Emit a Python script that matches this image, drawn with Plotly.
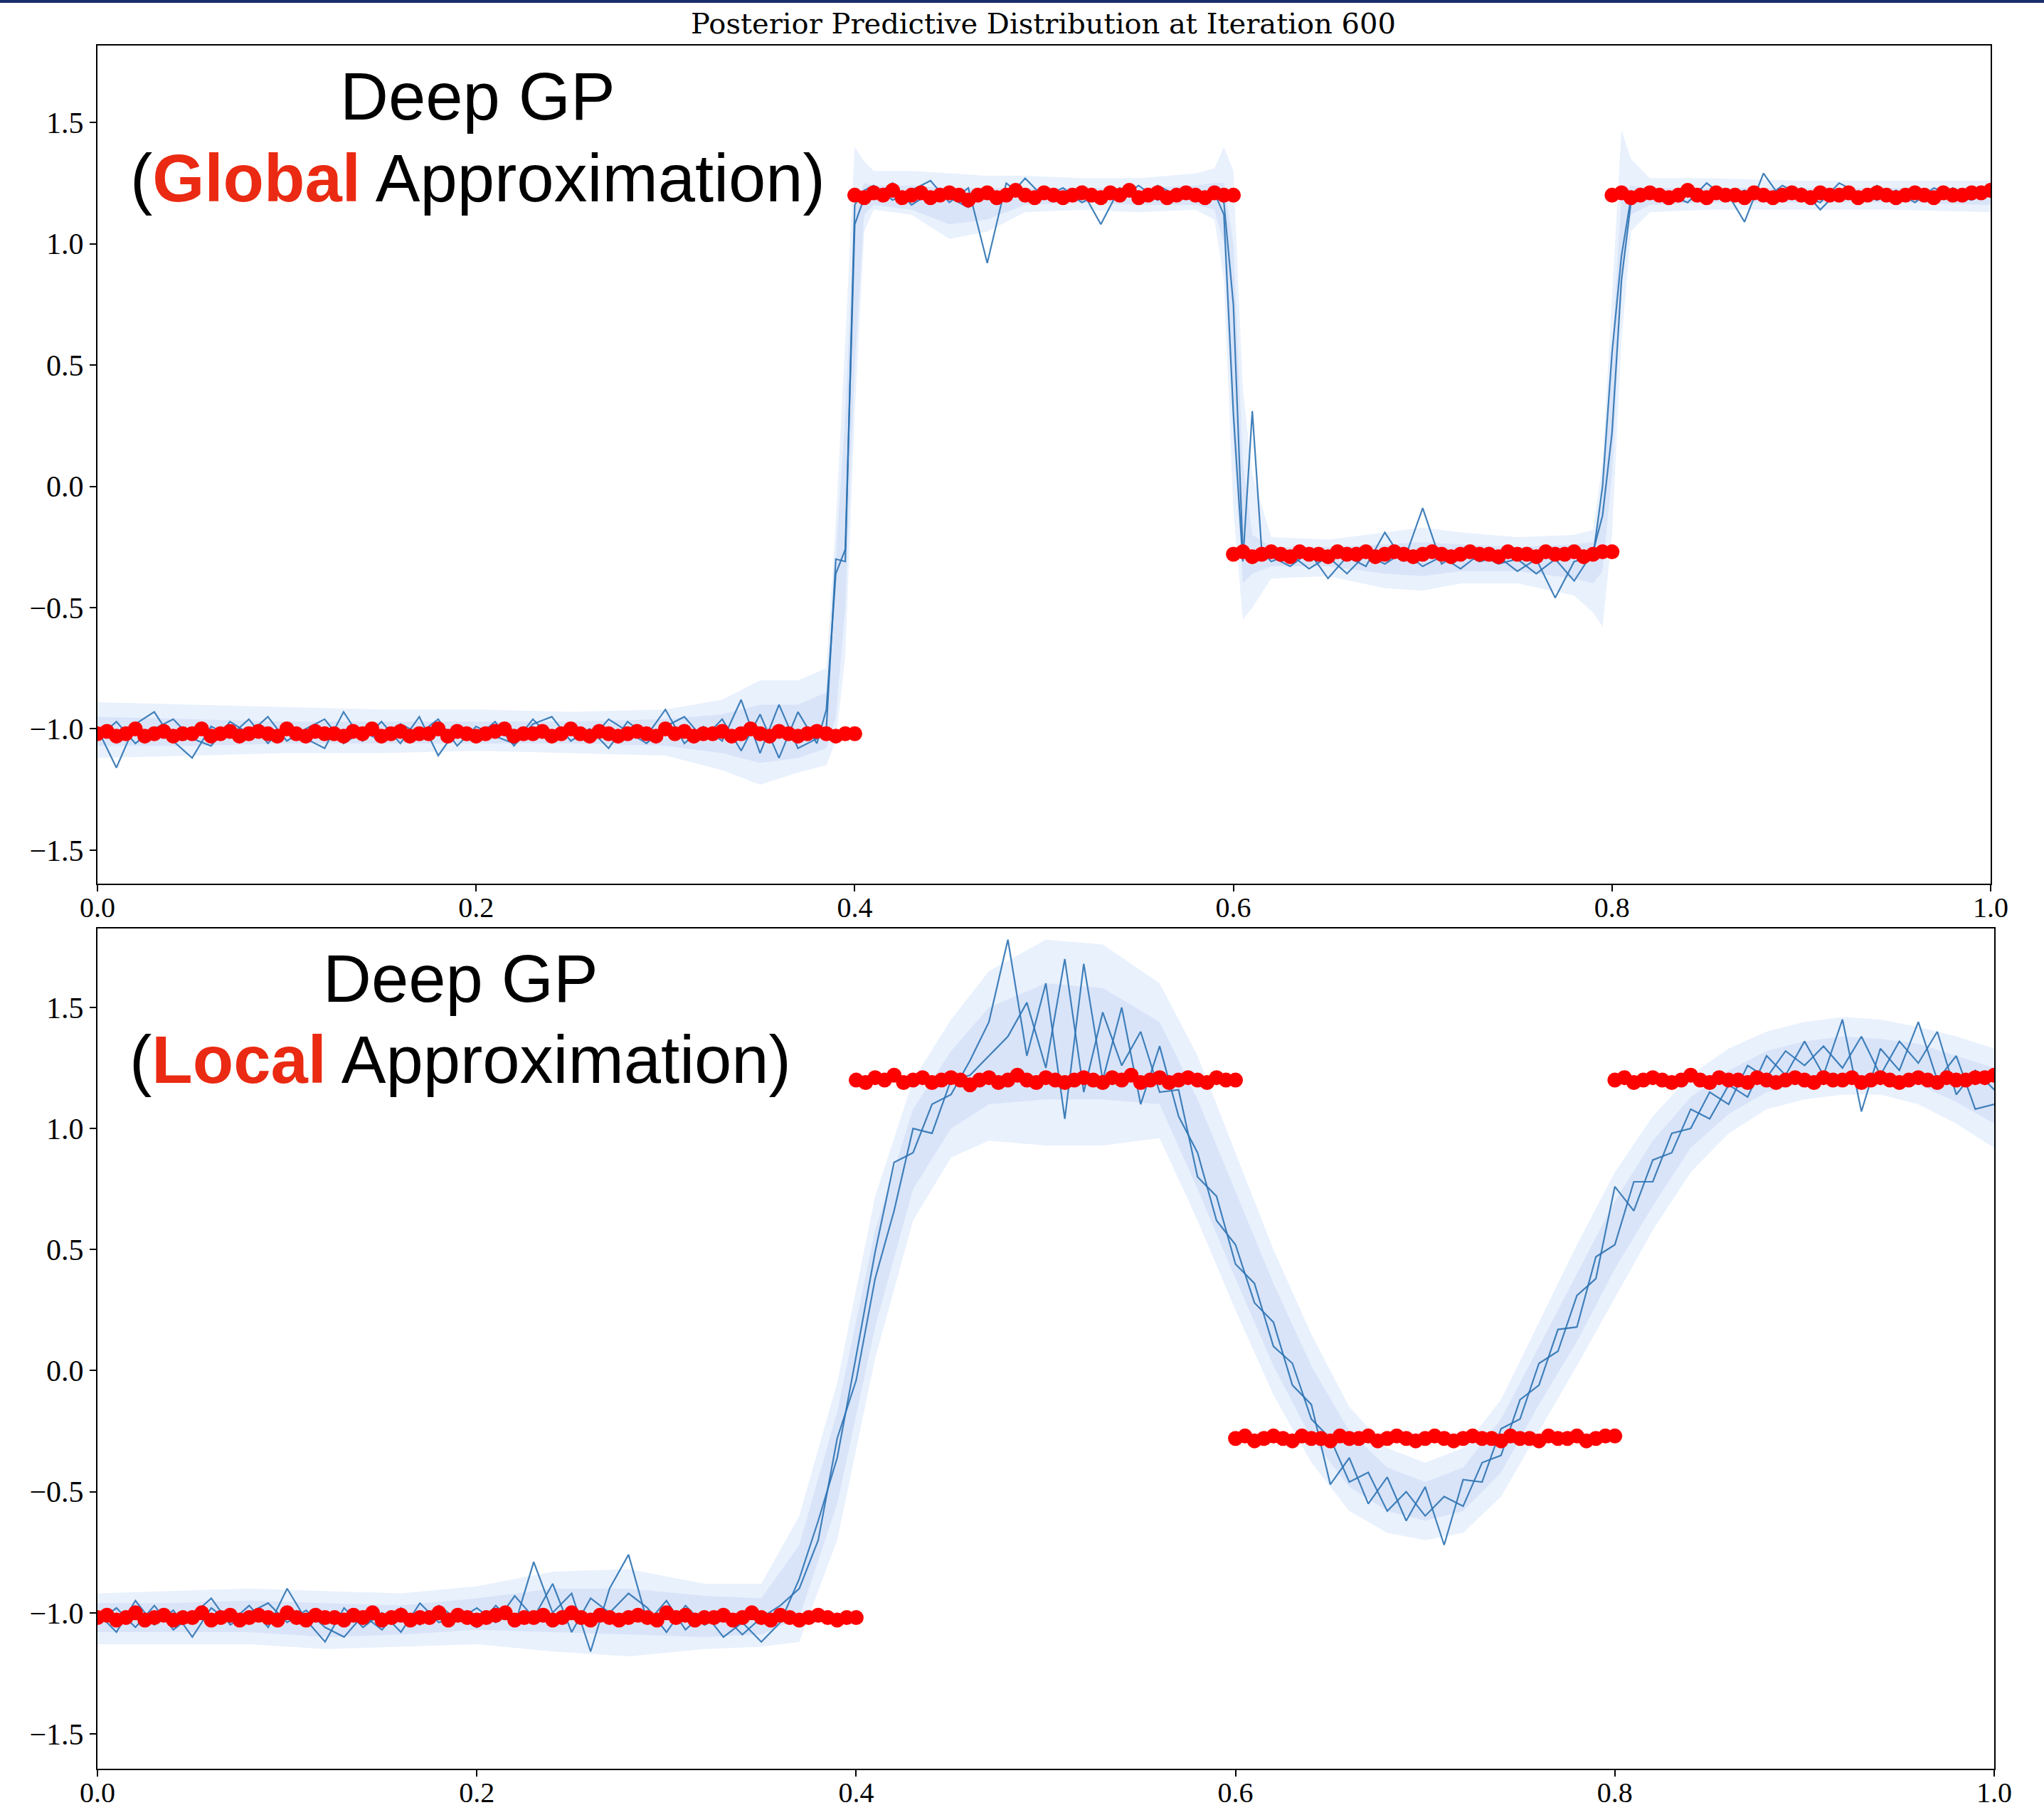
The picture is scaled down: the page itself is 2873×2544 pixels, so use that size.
import plotly.graph_objects as go

# ---------------- data ----------------
X_TICKS = [0.0, 0.2, 0.4, 0.6, 0.8, 1.0]
Y_TICKS = [-1.5, -1.0, -0.5, 0.0, 0.5, 1.0, 1.5]

TITLE = "Posterior Predictive Distribution at Iteration 600"
TOP_LABEL = ["Deep GP", "Global", " Approximation)"]
BOT_LABEL = ["Deep GP", "Local", " Approximation)"]

# observed training points (red)
RED_X_1 = [0.000, 0.005, 0.010, 0.015, 0.020, 0.025, 0.030, 0.035, 0.040, 0.045,
           0.050, 0.055, 0.060, 0.065, 0.070, 0.075, 0.080, 0.085, 0.090, 0.095,
           0.100, 0.105, 0.110, 0.115, 0.120, 0.125, 0.130, 0.135, 0.140, 0.145,
           0.150, 0.155, 0.160, 0.165, 0.170, 0.175, 0.180, 0.185, 0.190, 0.195,
           0.200, 0.205, 0.210, 0.215, 0.220, 0.225, 0.230, 0.235, 0.240, 0.245,
           0.250, 0.255, 0.260, 0.265, 0.270, 0.275, 0.280, 0.285, 0.290, 0.295,
           0.300, 0.305, 0.310, 0.315, 0.320, 0.325, 0.330, 0.335, 0.340, 0.345,
           0.350, 0.355, 0.360, 0.365, 0.370, 0.375, 0.380, 0.385, 0.390, 0.395,
           0.400]
RED_Y_1 = [-1.02, -1.01, -1.03, -1.02, -1.00, -1.03, -1.02, -1.01, -1.03, -1.02,
           -1.02, -1.00, -1.03, -1.02, -1.01, -1.03, -1.02, -1.01, -1.02, -1.03,
           -1.00, -1.02, -1.03, -1.01, -1.02, -1.02, -1.03, -1.01, -1.02, -1.00,
           -1.03, -1.02, -1.01, -1.03, -1.02, -1.02, -1.00, -1.03, -1.01, -1.02,
           -1.03, -1.02, -1.01, -1.00, -1.03, -1.02, -1.02, -1.01, -1.03, -1.02,
           -1.00, -1.02, -1.03, -1.01, -1.02, -1.03, -1.02, -1.01, -1.02, -1.03,
           -1.00, -1.02, -1.01, -1.03, -1.02, -1.02, -1.01, -1.03, -1.02, -1.00,
           -1.02, -1.03, -1.01, -1.02, -1.03, -1.02, -1.01, -1.02, -1.03, -1.02,
           -1.02]
RED_X_2 = [0.400, 0.405, 0.410, 0.415, 0.420, 0.425, 0.430, 0.435, 0.440, 0.445,
           0.450, 0.455, 0.460, 0.465, 0.470, 0.475, 0.480, 0.485, 0.490, 0.495,
           0.500, 0.505, 0.510, 0.515, 0.520, 0.525, 0.530, 0.535, 0.540, 0.545,
           0.550, 0.555, 0.560, 0.565, 0.570, 0.575, 0.580, 0.585, 0.590, 0.595,
           0.600]
RED_Y_2 = [1.20, 1.19, 1.21, 1.20, 1.22, 1.19, 1.20, 1.21, 1.19, 1.20,
           1.21, 1.20, 1.18, 1.20, 1.21, 1.19, 1.20, 1.22, 1.20, 1.19,
           1.21, 1.20, 1.19, 1.20, 1.21, 1.20, 1.19, 1.21, 1.20, 1.22,
           1.19, 1.20, 1.21, 1.19, 1.20, 1.21, 1.20, 1.19, 1.21, 1.20,
           1.20]
RED_X_3 = [0.600, 0.605, 0.610, 0.615, 0.620, 0.625, 0.630, 0.635, 0.640, 0.645,
           0.650, 0.655, 0.660, 0.665, 0.670, 0.675, 0.680, 0.685, 0.690, 0.695,
           0.700, 0.705, 0.710, 0.715, 0.720, 0.725, 0.730, 0.735, 0.740, 0.745,
           0.750, 0.755, 0.760, 0.765, 0.770, 0.775, 0.780, 0.785, 0.790, 0.795,
           0.800]
RED_Y_3 = [-0.28, -0.27, -0.29, -0.28, -0.27, -0.28, -0.29, -0.27, -0.28, -0.28,
           -0.29, -0.27, -0.28, -0.28, -0.27, -0.29, -0.28, -0.27, -0.28, -0.29,
           -0.28, -0.27, -0.28, -0.29, -0.28, -0.27, -0.28, -0.28, -0.29, -0.27,
           -0.28, -0.28, -0.29, -0.27, -0.28, -0.28, -0.27, -0.29, -0.28, -0.27,
           -0.27]
RED_X_4 = [0.800, 0.805, 0.810, 0.815, 0.820, 0.825, 0.830, 0.835, 0.840, 0.845,
           0.850, 0.855, 0.860, 0.865, 0.870, 0.875, 0.880, 0.885, 0.890, 0.895,
           0.900, 0.905, 0.910, 0.915, 0.920, 0.925, 0.930, 0.935, 0.940, 0.945,
           0.950, 0.955, 0.960, 0.965, 0.970, 0.975, 0.980, 0.985, 0.990, 0.995,
           1.000]
RED_Y_4 = [1.20, 1.21, 1.19, 1.20, 1.21, 1.20, 1.19, 1.20, 1.22, 1.20,
           1.19, 1.21, 1.20, 1.20, 1.19, 1.21, 1.20, 1.19, 1.20, 1.21,
           1.20, 1.19, 1.21, 1.20, 1.20, 1.21, 1.19, 1.20, 1.21, 1.20,
           1.19, 1.20, 1.21, 1.20, 1.19, 1.21, 1.20, 1.20, 1.21, 1.21,
           1.22]

# ---- top panel (global approximation): two posterior samples ----
TOP_X = [0.00, 0.01, 0.02, 0.03, 0.04, 0.05, 0.06, 0.07, 0.08, 0.09,
         0.10, 0.11, 0.12, 0.13, 0.14, 0.15, 0.16, 0.17, 0.18, 0.19,
         0.20, 0.21, 0.22, 0.23, 0.24, 0.25, 0.26, 0.27, 0.28, 0.29,
         0.30, 0.31, 0.32, 0.33, 0.34, 0.35, 0.36, 0.37, 0.38, 0.385,
         0.39, 0.395, 0.40, 0.405, 0.41, 0.42, 0.43, 0.44, 0.45, 0.46,
         0.47, 0.48, 0.49, 0.50, 0.51, 0.52, 0.53, 0.54, 0.55, 0.56,
         0.57, 0.58, 0.59, 0.595, 0.60, 0.605, 0.61, 0.615, 0.62, 0.63,
         0.64, 0.65, 0.66, 0.67, 0.68, 0.69, 0.70, 0.71, 0.72, 0.73,
         0.74, 0.75, 0.76, 0.77, 0.78, 0.79, 0.795, 0.80, 0.805, 0.81,
         0.82, 0.83, 0.84, 0.85, 0.86, 0.87, 0.88, 0.89, 0.90, 0.91,
         0.92, 0.93, 0.94, 0.95, 0.96, 0.97, 0.98, 0.99, 1.00]
TOP_A = [-1.00, -1.16, -0.98, -0.93, -1.05, -1.12, -0.99, -1.03, -0.96, -1.06,
         -0.98, -1.04, -1.08, -0.93, -1.05, -0.97, -1.06, -0.95, -1.11, -1.00,
         -1.04, -0.97, -1.07, -0.98, -0.95, -1.05, -1.00, -1.08, -0.97, -1.03,
         -0.92, -1.06, -0.99, -1.05, -0.88, -1.10, -0.90, -1.08, -1.04, -1.00,
         -0.30, -0.31, 1.16, 1.22, 1.24, 1.18, 1.22, 1.26, 1.17, 1.23,
         0.92, 1.25, 1.19, 1.21, 1.18, 1.22, 1.08, 1.23, 1.18, 1.24,
         1.20, 1.22, 1.20, 1.17, 0.75, -0.27, -0.30, -0.26, -0.29, -0.33,
         -0.27, -0.38, -0.29, -0.33, -0.19, -0.31, -0.09, -0.32, -0.27, -0.31,
         -0.29, -0.35, -0.30, -0.46, -0.31, -0.29, 0.00, 0.55, 0.95, 1.19,
         1.21, 1.18, 1.24, 1.17, 1.22, 1.09, 1.29, 1.18, 1.23, 1.14,
         1.22, 1.19, 1.24, 1.18, 1.21, 1.17, 1.23, 1.19, 1.21]
TOP_B = [-1.04, -0.97, -1.06, -1.00, -0.96, -1.04, -1.07, -0.97, -1.02, -0.95,
         -1.05, -1.00, -0.96, -1.06, -1.01, -1.05, -0.98, -1.02, -0.96, -1.07,
         -0.99, -1.03, -1.06, -0.96, -1.04, -0.98, -1.05, -0.96, -1.01, -1.06,
         -0.99, -0.95, -1.04, -0.96, -1.09, -0.94, -1.12, -0.93, -1.06, -0.92,
         -0.36, -0.26, 1.08, 1.19, 1.19, 1.25, 1.16, 1.21, 1.19, 1.15,
         1.22, 1.18, 1.27, 1.19, 1.23, 1.17, 1.21, 1.19, 1.24, 1.18,
         1.22, 1.19, 1.21, 1.12, 0.30, -0.31, 0.31, -0.27, -0.31, -0.28,
         -0.34, -0.29, -0.36, -0.28, -0.32, -0.27, -0.33, -0.29, -0.34, -0.28,
         -0.32, -0.30, -0.36, -0.30, -0.39, -0.27, -0.12, 0.22, 0.85, 1.17,
         1.23, 1.20, 1.17, 1.25, 1.19, 1.22, 1.18, 1.24, 1.20, 1.17,
         1.25, 1.21, 1.18, 1.22, 1.17, 1.23, 1.20, 1.18, 1.22]

# top panel credible bands (outer / inner)
TOPB_X = [0.00, 0.05, 0.10, 0.15, 0.20, 0.25, 0.30, 0.33, 0.35, 0.37,
          0.385, 0.39, 0.395, 0.40, 0.405, 0.41, 0.43, 0.45, 0.47, 0.49,
          0.52, 0.55, 0.58, 0.59, 0.595, 0.60, 0.605, 0.61, 0.62, 0.65,
          0.68, 0.70, 0.72, 0.75, 0.78, 0.79, 0.795, 0.80, 0.805, 0.81,
          0.82, 0.85, 0.90, 0.95, 1.00]
TOP_OUT_HI = [-0.89, -0.90, -0.91, -0.92, -0.92, -0.93, -0.92, -0.88, -0.80, -0.80,
              -0.75, -0.15, 0.60, 1.40, 1.34, 1.30, 1.30, 1.29, 1.28, 1.28,
              1.27, 1.27, 1.29, 1.31, 1.40, 1.30, 0.40, 0.05, -0.21, -0.22,
              -0.19, -0.17, -0.19, -0.21, -0.20, -0.18, 0.10, 0.80, 1.47, 1.35,
              1.27, 1.27, 1.26, 1.26, 1.26]
TOP_OUT_LO = [-1.12, -1.11, -1.10, -1.10, -1.09, -1.10, -1.11, -1.17, -1.23, -1.18,
              -1.15, -1.05, -0.70, 0.30, 1.05, 1.14, 1.12, 1.02, 1.05, 1.13,
              1.14, 1.13, 1.14, 1.10, 0.85, -0.10, -0.55, -0.50, -0.38, -0.37,
              -0.42, -0.43, -0.40, -0.40, -0.45, -0.52, -0.58, -0.20, 0.60, 1.05,
              1.13, 1.14, 1.14, 1.14, 1.13]
TOP_IN_HI = [-0.95, -0.96, -0.97, -0.97, -0.97, -0.97, -0.96, -0.94, -0.90, -0.90,
             -0.85, -0.30, 0.30, 1.15, 1.25, 1.24, 1.24, 1.23, 1.23, 1.23,
             1.23, 1.23, 1.24, 1.25, 1.25, 1.00, 0.10, -0.20, -0.25, -0.25,
             -0.24, -0.23, -0.24, -0.25, -0.24, -0.23, -0.05, 0.55, 1.20, 1.24,
             1.23, 1.23, 1.23, 1.23, 1.23]
TOP_IN_LO = [-1.07, -1.07, -1.06, -1.06, -1.06, -1.06, -1.07, -1.10, -1.14, -1.12,
             -1.08, -0.95, -0.50, 0.50, 1.12, 1.16, 1.14, 1.08, 1.10, 1.16,
             1.17, 1.16, 1.16, 1.14, 1.00, 0.20, -0.40, -0.36, -0.33, -0.33,
             -0.36, -0.37, -0.35, -0.35, -0.38, -0.40, -0.35, 0.05, 0.85, 1.12,
             1.16, 1.17, 1.17, 1.17, 1.16]

# ---- bottom panel (local approximation) ----
BOT_X = [0.00, 0.01, 0.02, 0.03, 0.04, 0.05, 0.06, 0.07, 0.08, 0.09,
         0.10, 0.11, 0.12, 0.13, 0.14, 0.15, 0.16, 0.17, 0.18, 0.19,
         0.20, 0.21, 0.22, 0.23, 0.24, 0.25, 0.26, 0.27, 0.28, 0.29,
         0.30, 0.31, 0.32, 0.33, 0.34, 0.35, 0.36, 0.37, 0.38, 0.39,
         0.40, 0.41, 0.42, 0.43, 0.44, 0.45, 0.46, 0.47, 0.48, 0.49,
         0.50, 0.51, 0.52, 0.53, 0.54, 0.55, 0.56, 0.57, 0.58, 0.59,
         0.60, 0.61, 0.62, 0.63, 0.64, 0.65, 0.66, 0.67, 0.68, 0.69,
         0.70, 0.71, 0.72, 0.73, 0.74, 0.75, 0.76, 0.77, 0.78, 0.79,
         0.80, 0.81, 0.82, 0.83, 0.84, 0.85, 0.86, 0.87, 0.88, 0.89,
         0.90, 0.91, 0.92, 0.93, 0.94, 0.95, 0.96, 0.97, 0.98, 0.99,
         1.00]
BOT_A = [-1.00, -1.08, -0.95, -1.05, -0.99, -1.10, -0.98, -1.04, -0.97, -1.06,
         -0.90, -1.03, -1.12, -0.98, -1.06, -1.00, -1.08, -0.96, -1.04, -1.01,
         -1.06, -0.97, -1.05, -0.79, -1.00, -0.92, -1.16, -0.90, -0.76, -1.04,
         -0.95, -1.07, -1.00, -1.10, -1.04, -1.12, -1.04, -0.86, -0.62, -0.36,
         0.06, 0.49, 0.86, 0.90, 1.10, 1.14, 1.28, 1.44, 1.78, 1.30,
         1.60, 1.04, 1.68, 1.20, 1.50, 1.10, 1.34, 1.05, 0.90, 0.62,
         0.52, 0.28, 0.20, -0.06, -0.14, -0.47, -0.36, -0.55, -0.44, -0.62,
         -0.48, -0.72, -0.45, -0.46, -0.24, -0.20, 0.03, 0.08, 0.31, 0.38,
         0.76, 0.66, 0.87, 0.90, 1.08, 1.04, 1.18, 1.13, 1.30, 1.22,
         1.36, 1.22, 1.45, 1.07, 1.33, 1.24, 1.44, 1.20, 1.30, 1.08,
         1.10]
BOT_B = [-1.04, -0.98, -1.06, -0.97, -1.07, -1.01, -0.94, -1.05, -1.00, -0.96,
         -1.04, -0.99, -1.06, -1.10, -1.01, -1.07, -0.98, -1.05, -0.97, -1.03,
         -0.98, -1.04, -0.93, -1.02, -0.88, -1.08, -0.94, -1.00, -0.92, -0.98,
         -1.08, -0.97, -1.05, -1.01, -1.09, -1.02, -0.97, -0.90, -0.70, -0.28,
         -0.04, 0.38, 0.66, 1.00, 0.98, 1.20, 1.22, 1.30, 1.38, 1.52,
         1.25, 1.70, 1.15, 1.48, 1.26, 1.40, 1.15, 1.16, 0.80, 0.72,
         0.44, 0.36, 0.10, 0.03, -0.20, -0.28, -0.46, -0.42, -0.58, -0.50,
         -0.60, -0.52, -0.56, -0.38, -0.35, -0.12, -0.06, 0.17, 0.18, 0.47,
         0.52, 0.78, 0.78, 0.98, 1.00, 1.15, 1.10, 1.26, 1.21, 1.32,
         1.26, 1.34, 1.25, 1.38, 1.22, 1.36, 1.27, 1.40, 1.14, 1.24,
         1.16]

BOTB_X = [0.00, 0.04, 0.08, 0.12, 0.16, 0.20, 0.24, 0.28, 0.32, 0.35,
          0.37, 0.39, 0.41, 0.43, 0.45, 0.47, 0.50, 0.53, 0.56, 0.58,
          0.60, 0.62, 0.64, 0.66, 0.68, 0.70, 0.72, 0.74, 0.76, 0.78,
          0.80, 0.82, 0.84, 0.86, 0.88, 0.90, 0.92, 0.94, 0.96, 0.98,
          1.00]
BOT_OUT_HI = [-0.92, -0.91, -0.90, -0.91, -0.92, -0.89, -0.83, -0.82, -0.88, -0.88,
              -0.60, -0.05, 0.72, 1.20, 1.45, 1.65, 1.78, 1.76, 1.60, 1.30,
              0.90, 0.50, 0.15, -0.15, -0.32, -0.38, -0.32, -0.12, 0.20, 0.52,
              0.82, 1.05, 1.22, 1.33, 1.40, 1.44, 1.46, 1.45, 1.42, 1.38,
              1.33]
BOT_OUT_LO = [-1.13, -1.13, -1.13, -1.15, -1.14, -1.13, -1.16, -1.18, -1.15, -1.14,
              -1.12, -0.70, 0.05, 0.62, 0.88, 0.95, 0.93, 0.93, 0.96, 0.62,
              0.25, -0.10, -0.38, -0.58, -0.67, -0.70, -0.67, -0.52, -0.25, 0.02,
              0.30, 0.58, 0.82, 0.98, 1.08, 1.12, 1.14, 1.14, 1.10, 1.02,
              0.92]
BOT_IN_HI = [-0.96, -0.96, -0.95, -0.96, -0.97, -0.94, -0.90, -0.90, -0.93, -0.94,
             -0.72, -0.17, 0.58, 1.08, 1.32, 1.50, 1.60, 1.58, 1.44, 1.12,
             0.74, 0.36, 0.02, -0.25, -0.40, -0.46, -0.40, -0.20, 0.10, 0.40,
             0.70, 0.95, 1.13, 1.24, 1.32, 1.36, 1.38, 1.37, 1.35, 1.30,
             1.25]
BOT_IN_LO = [-1.08, -1.08, -1.08, -1.10, -1.09, -1.07, -1.08, -1.09, -1.10, -1.09,
             -1.02, -0.55, 0.18, 0.75, 1.00, 1.10, 1.12, 1.12, 1.10, 0.75,
             0.38, 0.02, -0.28, -0.48, -0.58, -0.62, -0.58, -0.42, -0.14, 0.12,
             0.42, 0.68, 0.92, 1.06, 1.15, 1.19, 1.21, 1.21, 1.18, 1.11,
             1.02]

# ---------------- styling ----------------
W, H = 2873, 2544
OUTER_FILL = "#e9f1fd"
INNER_FILL = "#d9e4f9"
LINE_COLOR = "rgba(45,115,178,0.9)"
RED = "#ff0000"
LABEL_RED = "#ea2a12"
SERIF = "Liberation Serif"
TITLE_SERIF = "DejaVu Serif"
SANS = "Liberation Sans"

fig = go.Figure()


def add_panel(xa, ya, bx, out_hi, out_lo, in_hi, in_lo, lx, la, lb):
    common = dict(xaxis=xa, yaxis=ya, showlegend=False, hoverinfo="skip")
    fig.add_trace(go.Scatter(x=bx, y=out_hi, mode="lines",
                             line=dict(width=0, color=OUTER_FILL), **common))
    fig.add_trace(go.Scatter(x=bx, y=out_lo, mode="lines", fill="tonexty",
                             fillcolor=OUTER_FILL,
                             line=dict(width=0, color=OUTER_FILL), **common))
    fig.add_trace(go.Scatter(x=bx, y=in_hi, mode="lines",
                             line=dict(width=0, color=INNER_FILL), **common))
    fig.add_trace(go.Scatter(x=bx, y=in_lo, mode="lines", fill="tonexty",
                             fillcolor=INNER_FILL,
                             line=dict(width=0, color=INNER_FILL), **common))
    for ys in (la, lb):
        fig.add_trace(go.Scatter(x=lx, y=ys, mode="lines",
                                 line=dict(width=2.2, color=LINE_COLOR), **common))
    for rx, ry in ((RED_X_1, RED_Y_1), (RED_X_2, RED_Y_2),
                   (RED_X_3, RED_Y_3), (RED_X_4, RED_Y_4)):
        fig.add_trace(go.Scatter(x=rx, y=ry, mode="markers",
                                 marker=dict(size=21, color=RED, line=dict(width=0)),
                                 **common))


add_panel("x", "y", TOPB_X, TOP_OUT_HI, TOP_OUT_LO, TOP_IN_HI, TOP_IN_LO,
          TOP_X, TOP_A, TOP_B)
add_panel("x2", "y2", BOTB_X, BOT_OUT_HI, BOT_OUT_LO, BOT_IN_HI, BOT_IN_LO,
          BOT_X, BOT_A, BOT_B)

axis_common = dict(showline=True, mirror=True, linecolor="black", linewidth=2,
                   ticks="outside", ticklen=9, tickwidth=1.5, tickcolor="black",
                   showgrid=False, zeroline=False, tickformat=".1f",
                   automargin=False)
x_font = dict(family=SERIF, size=40, color="black")
y_font = dict(family=SERIF, size=42, color="black")


def px_x(p):
    return p / W


def px_y(p):
    return 1 - p / H


fig.update_layout(
    width=W, height=H,
    margin=dict(l=0, r=0, t=0, b=0, autoexpand=False),
    paper_bgcolor="white", plot_bgcolor="white",
    xaxis=dict(domain=[px_x(137), px_x(2798)], range=[0, 1], anchor="y",
               tickvals=X_TICKS, tickfont=x_font, ticklabelstandoff=-12,
               **axis_common),
    yaxis=dict(domain=[px_y(1242), px_y(64)], range=[-1.638, 1.817], anchor="x",
               tickvals=Y_TICKS, tickfont=y_font, **axis_common),
    xaxis2=dict(domain=[px_x(137), px_x(2803)], range=[0, 1], anchor="y2",
                tickvals=X_TICKS, tickfont=x_font, ticklabelstandoff=-12,
                **axis_common),
    yaxis2=dict(domain=[px_y(2486), px_y(1305)], range=[-1.644, 1.826], anchor="x2",
                tickvals=Y_TICKS, tickfont=y_font, **axis_common),
)

annotations = [
    dict(text=TITLE, x=px_x(1466), y=px_y(33), xref="paper", yref="paper",
         xanchor="center", yanchor="middle", showarrow=False,
         font=dict(family=TITLE_SERIF, size=40, color="black")),
    dict(text=TOP_LABEL[0], x=px_x(671), y=px_y(136), xref="paper", yref="paper",
         xanchor="center", yanchor="middle", showarrow=False,
         font=dict(family=SANS, size=94, color="black")),
    dict(text="(<b><span style='color:%s'>%s</span></b>%s" % (LABEL_RED, TOP_LABEL[1], TOP_LABEL[2]),
         x=px_x(671), y=px_y(250), xref="paper", yref="paper",
         xanchor="center", yanchor="middle", showarrow=False,
         font=dict(family=SANS, size=94, color="black")),
    dict(text=BOT_LABEL[0], x=px_x(647), y=px_y(1375), xref="paper", yref="paper",
         xanchor="center", yanchor="middle", showarrow=False,
         font=dict(family=SANS, size=94, color="black")),
    dict(text="(<b><span style='color:%s'>%s</span></b>%s" % (LABEL_RED, BOT_LABEL[1], BOT_LABEL[2]),
         x=px_x(647), y=px_y(1490), xref="paper", yref="paper",
         xanchor="center", yanchor="middle", showarrow=False,
         font=dict(family=SANS, size=94, color="black")),
]
fig.update_layout(annotations=annotations)

# thin dark frame stripe at the very top of the slide
fig.add_shape(type="rect", xref="paper", yref="paper", x0=0, x1=1,
              y0=px_y(4), y1=1, fillcolor="#1b2e6b", line=dict(width=0))

fig.write_html("out.html")
